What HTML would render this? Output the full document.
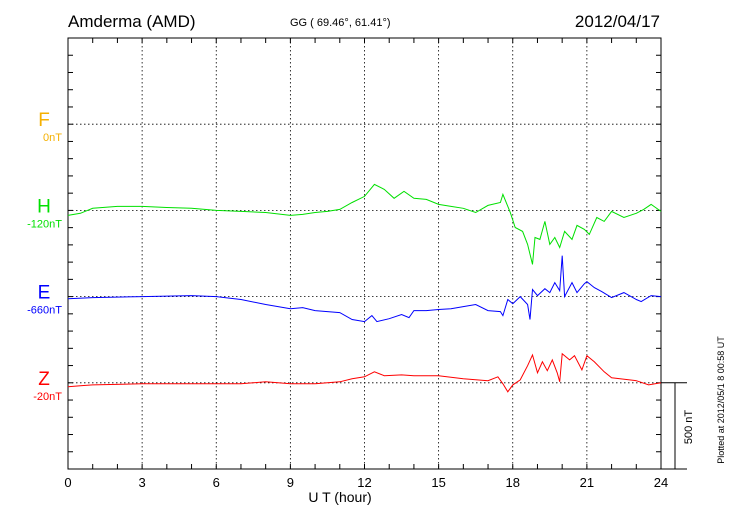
<!DOCTYPE html>
<html><head><meta charset="utf-8"><style>
body{margin:0;background:#fff;}
svg{display:block;font-family:"Liberation Sans",sans-serif;}
</style></head><body>
<svg id="chart" width="730" height="520" viewBox="0 0 730 520">
<text x="68" y="27" font-size="17">Amderma (AMD)</text>
<text x="290" y="26" font-size="11">GG ( 69.46°,  61.41°)</text>
<text x="660" y="27" font-size="17" text-anchor="end">2012/04/17</text>
<g id="grid"></g>
<g id="series"></g>
<text x="340" y="502" font-size="14" text-anchor="middle">U T (hour)</text>
<text transform="translate(724,400) rotate(-90)" font-size="9" text-anchor="middle">Plotted at 2012/05/1 8 00:58 UT</text>
<text transform="translate(692,427) rotate(-90)" font-size="11" text-anchor="middle">500 nT</text>
</svg>
<script>
const hTimes=[0,0.5,1,2,3,4,5,6,7,8,9,9.5,10,10.5,11,11.5,12,12.4,12.8,13.2,13.6,14,14.5,15,15.5,16,16.5,17,17.5,17.6,17.9,18.1,18.4,18.6,18.8,18.9,19.1,19.3,19.5,19.7,19.9,20.1,20.4,20.6,20.9,21.1,21.4,21.7,22,22.5,23,23.3,23.6,24];
const hValues=[-29,-17,12,23,23,17,12,0,-6,-12,-29,-23,-12,-6,6,46,81,151,122,70,110,70,64,35,23,12,-12,29,46,93,-12,-99,-122,-197,-313,-157,-168,-64,-197,-157,-215,-122,-168,-87,-110,-139,-41,-64,-6,-41,-17,6,35,-6];
const eTimes=[0,1,3,5,6,7,8,9,9.5,10,11,11.5,12,12.3,12.5,13,13.5,13.8,14,14.5,15,15.5,16,16.5,17,17.5,17.6,17.8,18,18.3,18.6,18.7,18.8,19,19.3,19.5,19.7,19.9,20,20.1,20.4,20.6,20.9,21,21.3,21.6,22,22.5,23,23.2,23.6,24];
const eValues=[-12,-6,0,6,0,-17,-46,-70,-64,-81,-93,-133,-145,-110,-145,-128,-104,-122,-81,-81,-75,-70,-58,-46,-81,-87,-110,-17,-41,0,-46,-133,41,6,46,23,81,35,238,0,81,23,75,87,52,29,-6,23,-17,-29,6,0];
const zTimes=[0,0.5,1,3,5,7,8,9,10,11,11.5,12,12.4,12.8,13.5,14,15,16,17,17.4,17.6,17.8,18,18.3,18.6,18.8,19,19.2,19.4,19.6,19.8,19.9,20,20.3,20.5,20.8,21,21.3,21.7,22,23,23.5,24];
const zValues=[-23,-17,-12,-6,-6,-6,6,-6,-6,6,23,35,64,41,46,41,41,23,12,35,-6,-52,-12,17,99,162,58,122,70,133,58,6,168,133,157,75,157,122,64,29,12,-12,0];
const xTicks=[0,3,6,9,12,15,18,21,24];
const channels=["F","H","E","Z"];
const channelOffsets=["0nT","-120nT","-660nT","-20nT"];

const NS="http://www.w3.org/2000/svg";
const X0=68,X1=661,Y0=38,Y1=469,BAND=(Y1-Y0)/5;
const xs=t=>X0+(X1-X0)*t/24;
const bases=[Y0+BAND,Y0+2*BAND,Y0+3*BAND,Y0+4*BAND];
const PXNT=BAND/500;
const colors=["#f5b000","#00e000","#0000ff","#ff0000"];
const grid=document.getElementById('grid'),ser=document.getElementById('series');
function mk(tag,attrs,parent){const e=document.createElementNS(NS,tag);for(const k in attrs)e.setAttribute(k,attrs[k]);parent.appendChild(e);return e;}
const frame=mk('rect',{x:X0,y:Y0,width:X1-X0,height:Y1-Y0,fill:'none',stroke:'#000','stroke-width':1},grid);


xTicks.forEach(t=>{
  const x=xs(t);
  if(t>0&&t<24){const l=mk('line',{x1:x,x2:x,y1:Y0,y2:Y1,stroke:'#000','stroke-width':0.8,'stroke-dasharray':'1.5,2.5'},grid);
  
  }
  const tx=mk('text',{x:x,y:487,'font-size':13,'text-anchor':'middle'},grid);tx.textContent=t;
  
  
});
for(let h=1;h<24;h++){const x=xs(h);
  mk('line',{x1:x,x2:x,y1:Y0,y2:Y0+5,stroke:'#000'},grid);
  mk('line',{x1:x,x2:x,y1:Y1,y2:Y1-5,stroke:'#000'},grid);}
for(let i=1;i<25;i++){const y=Y0+i*BAND/5;
  mk('line',{x1:X0,x2:X0+5,y1:y,y2:y,stroke:'#000'},grid);
  mk('line',{x1:X1,x2:X1-5,y1:y,y2:y,stroke:'#000'},grid);}
bases.forEach((b,i)=>{
  const l=mk('line',{x1:X0,x2:X1,y1:b,y2:b,stroke:'#000','stroke-width':0.8,'stroke-dasharray':'1.5,2.5'},grid);
  
  
  const lab=mk('text',{x:44,y:b+2,'font-size':19,'text-anchor':'middle',fill:colors[i]},grid);lab.textContent=channels[i];
  
  
  const off=mk('text',{x:62,y:b+17,'font-size':11,'text-anchor':'end',fill:colors[i]},grid);off.textContent=channelOffsets[i];
  
  
});
mk('line',{x1:X1,x2:687,y1:bases[3],y2:bases[3],stroke:'#000'},grid);
mk('line',{x1:X1,x2:687,y1:Y1,y2:Y1,stroke:'#000'},grid);
const sb=mk('line',{x1:675,x2:675,y1:bases[3],y2:Y1,stroke:'#000'},grid);


function series(ts,vs,base,color,name){
  const d=ts.map((t,i)=>(i?'L':'M')+xs(t).toFixed(1)+','+(base-vs[i]*PXNT).toFixed(1)).join('');
  const p=mk('path',{d:d,fill:'none',stroke:color,'stroke-width':1},ser);
  
  
}
series(hTimes,hValues,bases[1],colors[1],'h-series-line');
series(eTimes,eValues,bases[2],colors[2],'e-series-line');
series(zTimes,zValues,bases[3],colors[3],'z-series-line');
</script>
</body></html>
